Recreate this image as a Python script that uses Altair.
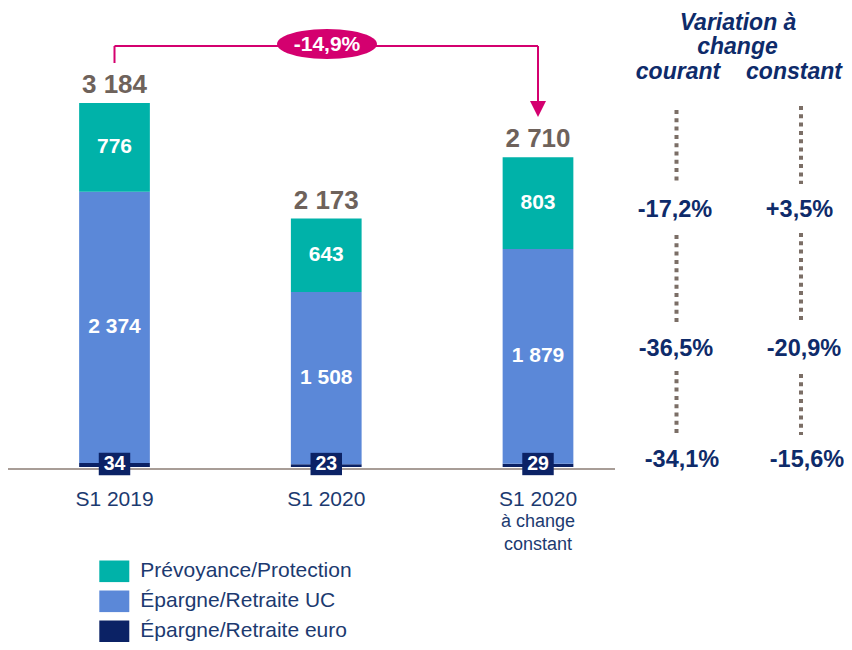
import math
import altair as alt
import pandas as pd

# ---------------- data ----------------
categories = ["S1 2019", "S1 2020", "S1 2020 à change constant"]
cat_main = ["S1 2019", "S1 2020", "S1 2020"]
cat_sub = ["", "", "à change\nconstant"]
segments = ["Prévoyance/Protection", "Épargne/Retraite UC", "Épargne/Retraite euro"]
prevoyance = [776, 643, 803]
epargne_uc = [2374, 1508, 1879]
epargne_euro = [34, 23, 29]
totals = [3184, 2173, 2710]
seg_colors = ["#00B2A9", "#5B88D8", "#0B2265"]
arrow_label = "-14,9%"
header_lines = ["Variation à", "change", "courant", "constant"]
var_courant = ["-17,2%", "-36,5%", "-34,1%"]
var_constant = ["+3,5%", "-20,9%", "-15,6%"]

FONT = "Liberation Sans"
NAVY_TXT = "#1C3A70"
NAVY_VAR = "#0E2B6A"
BROWN = "#6E625B"
PINK = "#D4006F"
DOT = "#7B6E66"


def fmt(v):
    return f"{v:,}".replace(",", " ")


rows = []
for i, c in enumerate(categories):
    acc = 0
    for seg, vals, order in [
        (segments[2], epargne_euro, 0),
        (segments[1], epargne_uc, 1),
        (segments[0], prevoyance, 2),
    ]:
        v = vals[i]
        rows.append({"cat": c, "segment": seg, "value": v, "order": order,
                     "v0": acc, "v1": acc + v, "mid": acc + v / 2, "label": fmt(v)})
        acc += v
df = pd.DataFrame(rows)
df_upper = df[df["order"] > 0]
df_euro = pd.DataFrame({"cat": categories, "z": [0] * 3, "label": [fmt(v) for v in epargne_euro]})
df_tot = pd.DataFrame({"cat": categories, "total": totals, "label": [fmt(t) for t in totals]})
df_cat = pd.DataFrame({"cat": categories, "main": cat_main, "sub": cat_sub})
one = pd.DataFrame({"k": [0]})

# ---------------- scales ----------------
xs = alt.Scale(domain=categories, range=[0.625, 635.875], paddingInner=0.666, paddingOuter=0.333)
ys = alt.Scale(domain=[0, 3200], range=[459, 93.24], nice=False, zero=True)
X = alt.X("cat:N", scale=xs, axis=None)

bars = alt.Chart(df).mark_bar().encode(
    x=X,
    y=alt.Y("v0:Q", scale=ys, axis=None),
    y2="v1:Q",
    color=alt.Color(
        "segment:N",
        scale=alt.Scale(domain=segments, range=seg_colors),
        legend=alt.Legend(
            title=None, orient="none", legendX=91.3, legendY=548.3,
            symbolType="M-1,-0.72H1V0.72H-1Z", symbolSize=900,
            symbolStrokeWidth=0, symbolOpacity=1,
            labelFont=FONT, labelFontSize=21, labelColor=NAVY_TXT,
            labelOffset=11, labelLimit=400, rowPadding=4, padding=0,
        ),
    ),
)

seg_text = alt.Chart(df_upper).mark_text(
    font=FONT, fontSize=21, fontWeight="bold", color="white", baseline="middle"
).encode(x=X, y=alt.Y("mid:Q", scale=ys), text="label:N")

baseline_rule = alt.Chart(one).mark_rule(color="#A89D97", strokeWidth=2).encode(
    y=alt.value(461), x=alt.value(0), x2=alt.value(607)
)

euro_box = alt.Chart(df_euro).mark_point(
    shape="M-1,-0.9L1,-0.9L1,0.52L-1,0.52Z", size=990, filled=True, opacity=1,
    color=seg_colors[2], strokeWidth=0
).encode(x=X, y=alt.Y("z:Q", scale=ys))
euro_text = alt.Chart(df_euro).mark_text(
    font=FONT, fontSize=19.5, fontWeight="bold", color="white", baseline="middle", dy=-3
).encode(x=X, y=alt.Y("z:Q", scale=ys), text="label:N")

tot_text = alt.Chart(df_tot).mark_text(
    font=FONT, fontSize=26, fontWeight="bold", color=BROWN, baseline="alphabetic", dy=-10
).encode(x=X, y=alt.Y("total:Q", scale=ys), text="label:N")

cat_text = alt.Chart(df_cat).mark_text(
    font=FONT, fontSize=21, color=NAVY_TXT, baseline="alphabetic"
).encode(x=X, y=alt.value(498), text="main:N")
sub_text = alt.Chart(df_cat).mark_text(
    font=FONT, fontSize=18, color=NAVY_TXT, baseline="alphabetic", lineBreak="\n", lineHeight=23
).encode(x=X, y=alt.value(519), text="sub:N")

# ---------------- arrow annotation ----------------
ellipse_path = "M" + "L".join(
    f"{math.cos(2 * math.pi * k / 48):.4f},{0.3 * math.sin(2 * math.pi * k / 48):.4f}"
    for k in range(48)
) + "Z"


def pink_rule(**kw):
    return alt.Chart(one).mark_rule(color=PINK, strokeWidth=2).encode(**kw)


arrow = [
    pink_rule(x=alt.value(106.5), y=alt.value(55), y2=alt.value(38)),
    pink_rule(x=alt.value(106.5), x2=alt.value(530), y=alt.value(38)),
    pink_rule(x=alt.value(530), y=alt.value(38), y2=alt.value(96)),
    alt.Chart(one).mark_point(shape="M-1,-1L1,-1L0,1Z", size=256, filled=True, opacity=1,
                              color=PINK, strokeWidth=0).encode(x=alt.value(530), y=alt.value(101)),
    alt.Chart(one).mark_point(shape=ellipse_path, size=10000,
                              filled=True, opacity=1, color=PINK, strokeWidth=0)
    .encode(x=alt.value(319), y=alt.value(36)),
    alt.Chart(one).mark_text(text=arrow_label, font=FONT, fontSize=21, fontWeight="bold",
                             color="white", baseline="middle")
    .encode(x=alt.value(319), y=alt.value(37)),
]

# ---------------- variation panel ----------------
hdr_pos = [(730, 21.5), (729.5, 45.5), (670, 70.5), (786, 70.5)]
header = [
    alt.Chart(one).mark_text(text=t, font=FONT, fontSize=23, fontWeight="bold",
                             fontStyle="italic", color=NAVY_VAR, baseline="alphabetic")
    .encode(x=alt.value(px), y=alt.value(py))
    for t, (px, py) in zip(header_lines, hdr_pos)
]

courant_pos = [(667, 208.5), (668, 348), (674, 459)]
constant_pos = [(791.5, 208.5), (796, 348), (799, 459)]
var_texts = [
    alt.Chart(one).mark_text(text=t, font=FONT, fontSize=23.5, fontWeight="bold",
                             color=NAVY_VAR, baseline="alphabetic")
    .encode(x=alt.value(px), y=alt.value(py))
    for t, (px, py) in list(zip(var_courant, courant_pos)) + list(zip(var_constant, constant_pos))
]

dots_spec = [
    (668.5, [(102, 174), (227, 314), (363, 425)]),
    (793, [(98, 176), (225, 312), (366, 427)]),
]
dots = [
    alt.Chart(one).mark_rule(color=DOT, strokeWidth=4, strokeDash=[4, 4.3], strokeCap="butt")
    .encode(x=alt.value(xp), y=alt.value(a), y2=alt.value(b))
    for xp, segs in dots_spec for a, b in segs
]

chart = alt.layer(
    baseline_rule, bars, seg_text, euro_box, euro_text, tot_text, cat_text, sub_text,
    *arrow, *header, *var_texts, *dots,
).properties(
    width=836, height=634,
    autosize=alt.AutoSizeParams(type="none"),
    padding=0,
).configure_view(stroke=None)

chart.save("out.html", embed_options={"renderer": "svg", "actions": False})
